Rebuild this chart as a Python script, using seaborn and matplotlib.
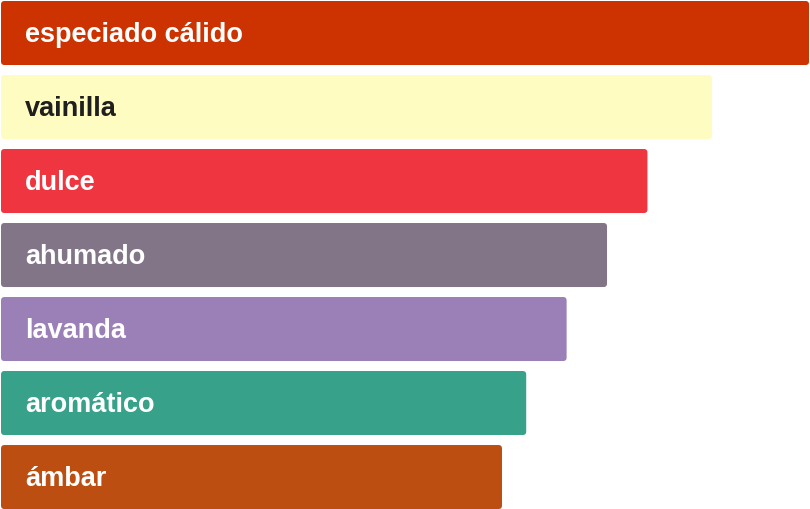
import matplotlib
matplotlib.use('Agg')
import matplotlib.pyplot as plt
from matplotlib.patches import FancyBboxPatch
import pandas as pd
import seaborn as sns

# data
notes  = ['especiado cálido', 'vainilla', 'dulce', 'ahumado',
          'lavanda', 'aromático', 'ámbar']
values = [100, 88, 80, 75, 70, 65, 62]
colors = ['#cc3300', '#fffcc2', '#ef3640', '#817587',
          '#9b80b8', '#37a189', '#bb4e10']
text_colors = ['white', '#1f1f1f', 'white', 'white', 'white', 'white', 'white']

df = pd.DataFrame({'note': notes, 'value': values})

sns.set_theme(style='white')
plt.rcParams['font.family'] = ['Liberation Sans', 'DejaVu Sans']

fig = plt.figure(figsize=(8.10, 5.09), dpi=100)
ax = fig.add_axes([0, 0, 1, 1])

sns.barplot(data=df, x='value', y='note', hue='note', palette=colors,
            saturation=1, legend=False, width=0.865, orient='h', ax=ax)

ax.set_xlim(-0.124, 100.12)
ax.set_ylim(6.432, -0.446)

# swap plain rectangles for rounded ones
px_x = 810 / (ax.get_xlim()[1] - ax.get_xlim()[0])
px_y = 509 / (ax.get_ylim()[0] - ax.get_ylim()[1])
r = 3.5 / px_x
for patch in list(ax.patches):
    x0, y0 = patch.get_x(), patch.get_y()
    w, h = patch.get_width(), patch.get_height()
    fc = patch.get_facecolor()
    patch.remove()
    ax.add_patch(FancyBboxPatch((x0, y0), w, h,
                                boxstyle=f'round,pad=0,rounding_size={r}',
                                mutation_aspect=px_x / px_y,
                                facecolor=fc, edgecolor='none'))

for i, (name, tc) in enumerate(zip(notes, text_colors)):
    ax.annotate(name, xy=(0, i), xytext=(17.3, -1.2), textcoords='offset points',
                ha='left', va='center', fontsize=19.5, fontweight='bold',
                color=tc)

ax.set_axis_off()
fig.savefig('out.png', dpi=100)
